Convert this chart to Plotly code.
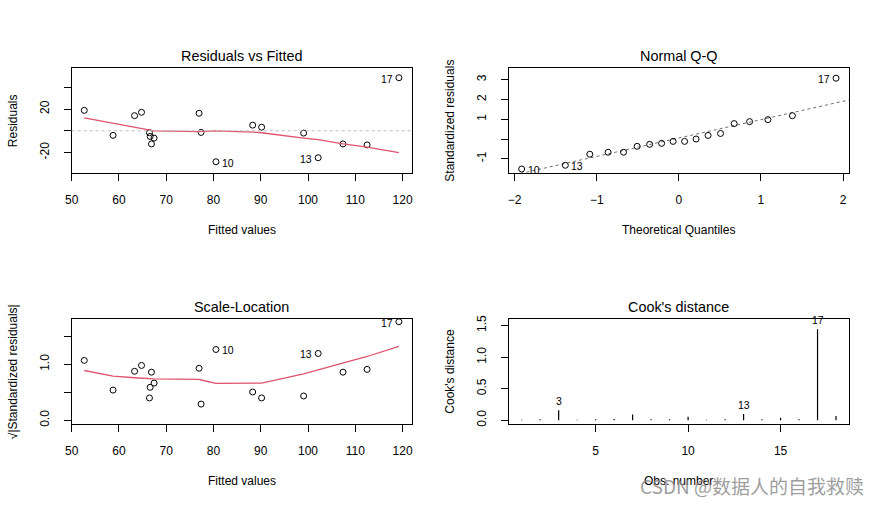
import plotly.graph_objects as go

# ---------------- data ----------------
fitted = [52.66, 58.75, 63.3, 64.77, 66.45, 66.6, 66.87, 67.43, 76.95, 77.37,
          80.52, 88.29, 90.18, 99.07, 102.15, 107.4, 112.5, 119.23]
residuals = [18.8, -4.2, 13.9, 17.0, -1.8, -5.2, -12.1, -6.7, 16.1, -1.5,
             -28.5, 5.2, 3.3, -2.1, -24.8, -12.1, -13.0, 48.8]
resid_smooth = [11.8, 6.9, 3.4, 2.5, 1.3, 1.1, 0.9, 0.0, -0.7, -0.6,
                0.0, -1.2, -1.8, -6.7, -8.2, -12.1, -15.0, -20.0]

theoretical_q = [-1.915, -1.383, -1.085, -0.862, -0.674, -0.508, -0.356, -0.210, -0.070,
                 0.070, 0.210, 0.356, 0.508, 0.674, 0.862, 1.085, 1.383, 1.915]
std_resid_sorted = [-1.52, -1.33, -0.77, -0.67, -0.67, -0.37, -0.27, -0.22, -0.12,
                    -0.12, 0.0, 0.18, 0.28, 0.78, 0.88, 0.98, 1.18, 3.08]
qq_intercept = 0.05
qq_slope = 0.93

sqrt_std_resid = [1.07, 0.54, 0.876, 0.98, 0.40, 0.59, 0.86, 0.665, 0.93, 0.29,
                  1.265, 0.506, 0.40, 0.435, 1.194, 0.86, 0.91, 1.76]
scale_smooth = [0.89, 0.79, 0.76, 0.75, 0.74, 0.74, 0.74, 0.74, 0.73, 0.72,
                0.66, 0.66, 0.665, 0.83, 0.90, 1.03, 1.14, 1.32]

obs_number = list(range(1, 19))
cooks_d = [0.008, 0.015, 0.16, 0.008, 0.015, 0.02, 0.09, 0.015, 0.015, 0.057,
           0.01, 0.015, 0.10, 0.015, 0.04, 0.015, 1.442, 0.07]

# labelled points: index -> label
resid_labels = {10: "10", 14: "13", 17: "17"}
qq_labels = {0: "10", 1: "13", 17: "17"}
scale_labels = {10: "10", 14: "13", 17: "17"}
cook_labels = {2: "3", 12: "13", 16: "17"}

titles = ["Residuals vs Fitted", "Normal Q-Q", "Scale-Location", "Cook's distance"]
xlabels = ["Fitted values", "Theoretical Quantiles", "Fitted values", "Obs. number"]
ylabels = ["Residuals", "Standardized residuals", "\u221a|Standardized residuals|", "Cook's distance"]
watermark = "CSDN @数据人的自我救赎"

# ---------------- style ----------------
W, H = 883, 508
FONT = "Liberation Sans, Arial, sans-serif"
RED = "#DF536B"
px_l = [65.3, 506.7]
px_r = [408.7, 849.3]
px_t = [65.3, 319.3]
px_b = [172.0, 426.0]

def xdom(c):
    return [px_l[c] / W, px_r[c] / W]

def ydom(r):
    return [(H - px_b[r]) / H, (H - px_t[r]) / H]

fig = go.Figure()
mk = dict(symbol="circle-open", size=6, color="black", line=dict(width=1, color="black"))

# Panel 1
fig.add_trace(go.Scatter(x=fitted, y=residuals, mode="markers", marker=mk, xaxis="x", yaxis="y"))
fig.add_trace(go.Scatter(x=fitted, y=resid_smooth, mode="lines",
                         line=dict(color=RED, width=1.3), xaxis="x", yaxis="y"))
# Panel 2
qq_x = [min(theoretical_q) - 0.3, max(theoretical_q) + 0.3]
fig.add_trace(go.Scatter(x=qq_x, y=[qq_intercept + qq_slope * v for v in qq_x], mode="lines",
                         line=dict(color="#6f6f6f", width=1, dash="dot"), xaxis="x2", yaxis="y2"))
fig.add_trace(go.Scatter(x=theoretical_q, y=std_resid_sorted, mode="markers", marker=mk,
                         xaxis="x2", yaxis="y2"))
# Panel 3
fig.add_trace(go.Scatter(x=fitted, y=sqrt_std_resid, mode="markers", marker=mk, xaxis="x3", yaxis="y3"))
fig.add_trace(go.Scatter(x=fitted, y=scale_smooth, mode="lines",
                         line=dict(color=RED, width=1.3), xaxis="x3", yaxis="y3"))
# Panel 4 (type "h" spikes)
cx, cy = [], []
for o, c in zip(obs_number, cooks_d):
    cx += [o, o, None]
    cy += [0, c, None]
fig.add_trace(go.Scatter(x=cx, y=cy, mode="lines", line=dict(color="black", width=1.2),
                         xaxis="x4", yaxis="y4"))

# reference line at 0 in panel 1
fig.add_shape(type="line", xref="x domain", yref="y", x0=0, x1=1, y0=0, y1=0,
              line=dict(color="#BEBEBE", width=1, dash="dot"))

axis_common = dict(showline=True, mirror=True, linecolor="black", linewidth=1,
                   ticks="outside", ticklen=7, tickwidth=1, tickcolor="black",
                   showgrid=False, zeroline=False,
                   tickfont=dict(family=FONT, size=12, color="black"))

xr = [[50.0, 122.0], [-2.068, 2.068], [50.0, 122.0], [0.32, 18.68]]
yr = [[-38.8, 58.2], [-1.72, 3.62], [-0.065, 1.818], [-0.058, 1.61]]
xt = [[50, 60, 70, 80, 90, 100, 110, 120],
      [-2, -1, 0, 1, 2],
      [50, 60, 70, 80, 90, 100, 110, 120],
      [5, 10, 15]]
yt = [([-20, 0, 20, 40], ["-20", "", "20", ""]),
      ([-1, 0, 1, 2, 3], ["-1", "", "1", "2", "3"]),
      ([0, 0.5, 1.0, 1.5], ["0.0", "", "1.0", ""]),
      ([0, 0.5, 1.0, 1.5], ["0.0", "0.5", "1.0", "1.5"])]

layout = dict(width=W, height=H, margin=dict(l=0, r=0, t=0, b=0),
              paper_bgcolor="white", plot_bgcolor="white", showlegend=False,
              font=dict(family=FONT, color="black"))
for i in range(4):
    r, c = divmod(i, 2)
    sx = "" if i == 0 else str(i + 1)
    xa = dict(axis_common, domain=xdom(c), range=xr[i], anchor="y" + sx,
              tickvals=xt[i], ticklabelstandoff=9)
    ya = dict(axis_common, domain=ydom(r), range=yr[i], anchor="x" + sx,
              tickvals=yt[i][0], ticktext=yt[i][1], tickangle=-90, ticklabelstandoff=10)
    layout["xaxis" + sx] = xa
    layout["yaxis" + sx] = ya
fig.update_layout(**layout)

ann = []
for i in range(4):
    r, c = divmod(i, 2)
    cxp = (px_l[c] + px_r[c]) / 2 / W
    title_y = [54.0, 307.3][r]
    xl_y = [229.3, 483.3][r]
    yl_x = [6.0, 447.5][c]
    cyp = (px_t[r] + px_b[r]) / 2
    ann.append(dict(text=titles[i], xref="paper", yref="paper", x=cxp, y=(H - title_y) / H,
                    xanchor="center", yanchor="middle", showarrow=False,
                    font=dict(family=FONT, size=14.4, color="black")))
    ann.append(dict(text=xlabels[i], xref="paper", yref="paper", x=cxp, y=(H - xl_y) / H,
                    xanchor="center", yanchor="middle", showarrow=False,
                    font=dict(family=FONT, size=12, color="black")))
    ann.append(dict(text=ylabels[i], xref="paper", yref="paper", x=yl_x / W, y=(H - cyp) / H,
                    xanchor="center", yanchor="middle", showarrow=False, textangle=-90,
                    font=dict(family=FONT, size=12, color="black")))

def point_labels(xs, ys, labels, xref, yref):
    mid = (min(xs) + max(xs)) / 2
    for idx, lab in labels.items():
        right = xs[idx] <= mid
        ann.append(dict(text=lab, x=xs[idx], y=ys[idx], xref=xref, yref=yref,
                        xanchor="left" if right else "right", yanchor="middle",
                        xshift=4 if right else -4, yshift=-1, showarrow=False,
                        font=dict(family=FONT, size=10.5, color="black")))

point_labels(fitted, residuals, resid_labels, "x", "y")
point_labels(theoretical_q, std_resid_sorted, qq_labels, "x2", "y2")
point_labels(fitted, sqrt_std_resid, scale_labels, "x3", "y3")
for idx, lab in cook_labels.items():
    ann.append(dict(text=lab, x=obs_number[idx], y=cooks_d[idx], xref="x4", yref="y4",
                    xanchor="center", yanchor="bottom", yshift=1, showarrow=False,
                    font=dict(family=FONT, size=10.5, color="black")))

ann.append(dict(text=watermark, xref="paper", yref="paper", x=867 / W, y=(H - 488) / H,
                xanchor="right", yanchor="middle", showarrow=False,
                font=dict(family="Noto Sans CJK SC, sans-serif", size=19,
                          color="rgba(140,140,140,0.85)")))
fig.update_layout(annotations=ann)

fig.write_html("out.html", config={"displayModeBar": False},
               post_script="document.body.style.margin='0';document.body.style.overflow='hidden';")
